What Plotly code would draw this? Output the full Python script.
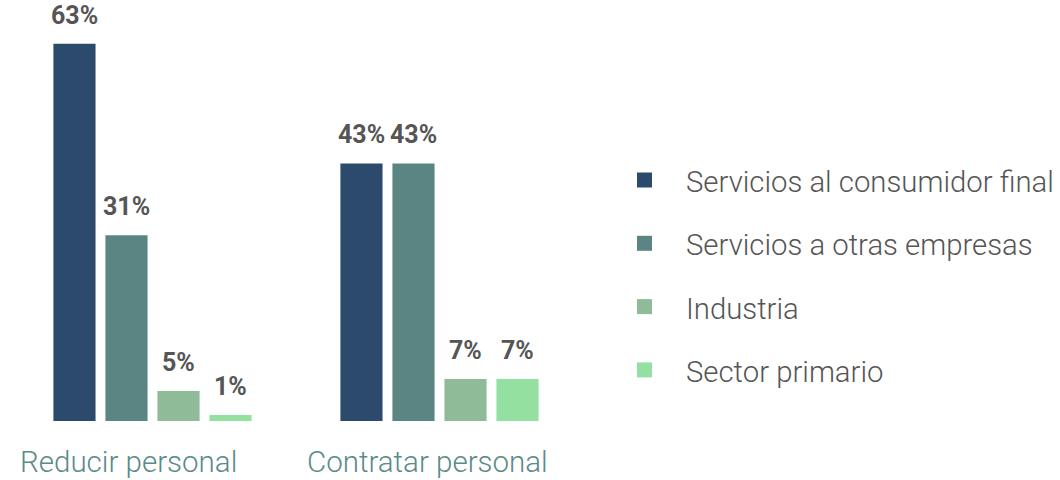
import plotly.graph_objects as go

# Survey categories and sector shares (%)
categories = ["Reducir personal", "Contratar personal"]
sectors = [
    "Servicios al consumidor final",
    "Servicios a otras empresas",
    "Industria",
    "Sector primario",
]
values = {
    "Servicios al consumidor final": [63, 43],
    "Servicios a otras empresas": [31, 43],
    "Industria": [5, 7],
    "Sector primario": [1, 7],
}
colors = ["#2c4a6b", "#5a8582", "#8fbb98", "#93e0a0"]

W, H = 1060, 480
ML, MR, MT, MB = 9, 477, 0, 59
PW, PH = W - ML - MR, H - MT - MB


def px_x(x):
    return (x - ML) / PW


def px_y(y):
    return 1 - (y - MT) / PH


fig = go.Figure()
for name, col in zip(sectors, colors):
    fig.add_trace(go.Bar(
        x=categories, y=values[name], name=name,
        marker=dict(color=col, line=dict(width=0)),
        showlegend=False, hoverinfo="skip",
    ))

annotations = []
# value labels above each bar
n = len(sectors)
slot = 52  # px per bar slot inside a group
for i, name in enumerate(sectors):
    offset = (i - (n - 1) / 2) * slot
    for cat, v in zip(categories, values[name]):
        annotations.append(dict(
            x=cat, y=v, xref="x", yref="y", text=f"{v}%",
            showarrow=False, xanchor="center", yanchor="bottom",
            xshift=offset, yshift=12,
            font=dict(family="Roboto", size=25, color="#555555", weight=700),
        ))

# category labels below the groups
for cat in categories:
    annotations.append(dict(
        x=cat, y=0, xref="x", yref="y", text=cat,
        showarrow=False, xanchor="left", yanchor="top",
        xshift=-135, yshift=-22,
        font=dict(family="Roboto", size=29.5, color="#5b8a87", weight=300),
    ))

# legend: squares and names
shapes = []
leg_x, leg_y0, leg_dy, sq = 637, 180, 63.3, 15
for i, (name, col) in enumerate(zip(sectors, colors)):
    cy = leg_y0 + i * leg_dy
    shapes.append(dict(
        type="rect", xref="paper", yref="paper",
        x0=px_x(leg_x), x1=px_x(leg_x + sq),
        y0=px_y(cy + sq / 2), y1=px_y(cy - sq / 2),
        fillcolor=col, line=dict(width=0),
    ))
    annotations.append(dict(
        x=px_x(684), y=px_y(cy + 2), xref="paper", yref="paper",
        text=name, showarrow=False, xanchor="left", yanchor="middle",
        font=dict(family="Roboto", size=29.3, color="#555555", weight=300),
    ))

fig.update_layout(
    width=W, height=H,
    margin=dict(l=ML, r=MR, t=MT, b=MB),
    paper_bgcolor="white", plot_bgcolor="white",
    barmode="group", bargap=0.275, bargroupgap=0.19,
    xaxis=dict(range=[-0.5, 1.5], showticklabels=False, showgrid=False,
               zeroline=False, showline=False, ticks=""),
    yaxis=dict(range=[0, PH / 5.99], showticklabels=False, showgrid=False,
               zeroline=False, showline=False, ticks=""),
    annotations=annotations,
    shapes=shapes,
    showlegend=False,
)

fig.write_html("out.html")
